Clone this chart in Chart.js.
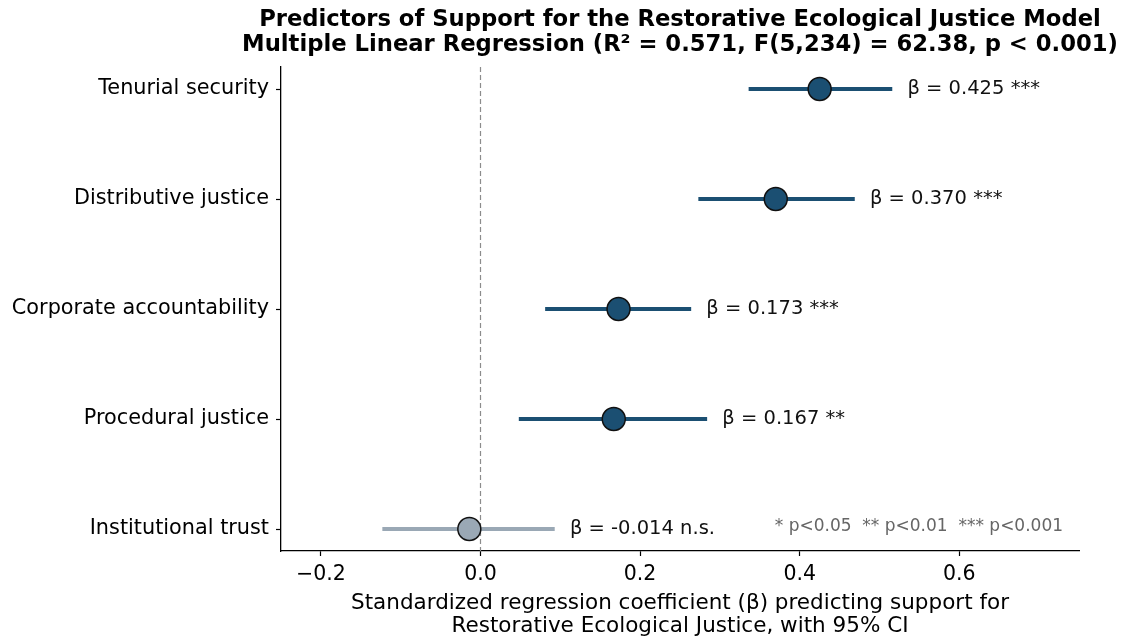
<!DOCTYPE html>
<html>
<head>
<meta charset="utf-8">
<script src="https://cdn.jsdelivr.net/npm/chart.js@4.4.0/dist/chart.umd.min.js"></script>
<style>
html,body{margin:0;padding:0;background:#fff;}
#wrap{width:1124px;height:640px;position:relative;}
</style>
</head>
<body>
<div id="wrap"><canvas id="c" width="1124" height="640"></canvas></div>
<script>
const categories = ["Tenurial security","Distributive justice","Corporate accountability","Procedural justice","Institutional trust"];
const beta = [0.425, 0.370, 0.173, 0.167, -0.014];
const ciLow = [0.336, 0.273, 0.081, 0.048, -0.123];
const ciHigh = [0.516, 0.469, 0.264, 0.284, 0.093];
const sigLabels = ["***","***","***","**","n.s."];
const xTicks = [-0.2, 0.0, 0.2, 0.4, 0.6];
const titleLines = ["Predictors of Support for the Restorative Ecological Justice Model",
                    "Multiple Linear Regression (R² = 0.571, F(5,234) = 62.38, p < 0.001)"];

const sigColor = '#1b4f72';
const nsColor = '#9aa8b5';
const colors = sigLabels.map(s => s === 'n.s.' ? nsColor : sigColor);
const FONT = "'DejaVu Sans', sans-serif";

const datasets = [];
categories.forEach((c, i) => {
  datasets.push({
    type: 'line',
    data: [{x: ciLow[i], y: i}, {x: ciHigh[i], y: i}],
    borderColor: colors[i],
    borderWidth: 4,
    pointRadius: 0,
    order: 2
  });
});
datasets.push({
  type: 'scatter',
  data: beta.map((b, i) => ({x: b, y: i})),
  backgroundColor: colors,
  borderColor: '#111',
  borderWidth: 1.5,
  pointRadius: 11.5,
  order: 1
});

const annot = {
  id: 'annot',
  beforeDatasetsDraw(chart) {
    const {ctx, chartArea, scales: {x, y}} = chart;
    ctx.save();
    ctx.strokeStyle = '#8c8c8c';
    ctx.lineWidth = 1.2;
    ctx.setLineDash([5, 3]);
    const x0 = x.getPixelForValue(0);
    ctx.beginPath();
    ctx.moveTo(x0, chartArea.top);
    ctx.lineTo(x0, chartArea.bottom);
    ctx.stroke();
    ctx.restore();
  },
  afterDatasetsDraw(chart) {
    const {ctx, chartArea, scales: {x, y}} = chart;
    ctx.save();
    ctx.font = "19.5px " + FONT;
    ctx.fillStyle = '#111';
    ctx.textBaseline = 'middle';
    ctx.textAlign = 'left';
    categories.forEach((c, i) => {
      const px = x.getPixelForValue(ciHigh[i] + 0.019);
      const py = y.getPixelForValue(i);
      ctx.fillText('β = ' + beta[i].toFixed(3) + ' ' + sigLabels[i], px, py);
    });
    ctx.font = "17px " + FONT;
    ctx.fillStyle = '#666';
    ctx.textAlign = 'right';
    ctx.fillText('* p<0.05  ** p<0.01  *** p<0.001',
      chartArea.left + (chartArea.right - chartArea.left) * 0.98,
      chartArea.bottom - (chartArea.bottom - chartArea.top) * 0.05);
    // title centred over the plot area
    ctx.font = "bold 22.7px " + FONT;
    ctx.fillStyle = '#000';
    ctx.textAlign = 'center';
    const cx = (chartArea.left + chartArea.right) / 2;
    ctx.fillText(titleLines[0], cx, 20);
    ctx.fillText(titleLines[1], cx, 45.5);
    ctx.restore();
  }
};

new Chart(document.getElementById('c'), {
  data: { datasets },
  options: {
    responsive: false,
    animation: false,
    layout: { padding: { left: 0, right: 45, top: 67, bottom: 0 } },
    plugins: {
      legend: { display: false },
      tooltip: { enabled: false },
      title: { display: false }
    },
    scales: {
      x: {
        type: 'linear',
        min: -0.25, max: 0.75,
        afterBuildTicks(s) { s.ticks = xTicks.map(v => ({value: v})); },
        afterFit(s) { s.height = 89; },
        ticks: {
          font: { family: FONT, size: 20.5 },
          color: '#000',
          padding: 6,
          callback: v => (v < 0 ? '\u2212' : '') + Math.abs(v).toFixed(1)
        },
        grid: { drawOnChartArea: false, drawTicks: true, tickLength: 5, color: '#000', tickWidth: 1.2 },
        border: { display: true, color: '#000', width: 1.3 },
        title: {
          display: true,
          text: ["Standardized regression coefficient (β) predicting support for",
                 "Restorative Ecological Justice, with 95% CI"],
          font: { family: FONT, size: 21.5, lineHeight: 1.03 },
          color: '#000',
          padding: { top: 0, bottom: 3 }
        }
      },
      y: {
        type: 'linear',
        reverse: true,
        min: -0.2, max: 4.2,
        afterBuildTicks(s) { s.ticks = categories.map((c, i) => ({value: i})); },
        afterFit(s) { s.width = 281; },
        ticks: {
          font: { family: FONT, size: 20.8 },
          color: '#000',
          padding: 7,
          callback: v => categories[v]
        },
        grid: { drawOnChartArea: false, drawTicks: true, tickLength: 5, color: '#000', tickWidth: 1.2 },
        border: { display: true, color: '#000', width: 1.3 }
      }
    }
  },
  plugins: [annot]
});
</script>
</body>
</html>
